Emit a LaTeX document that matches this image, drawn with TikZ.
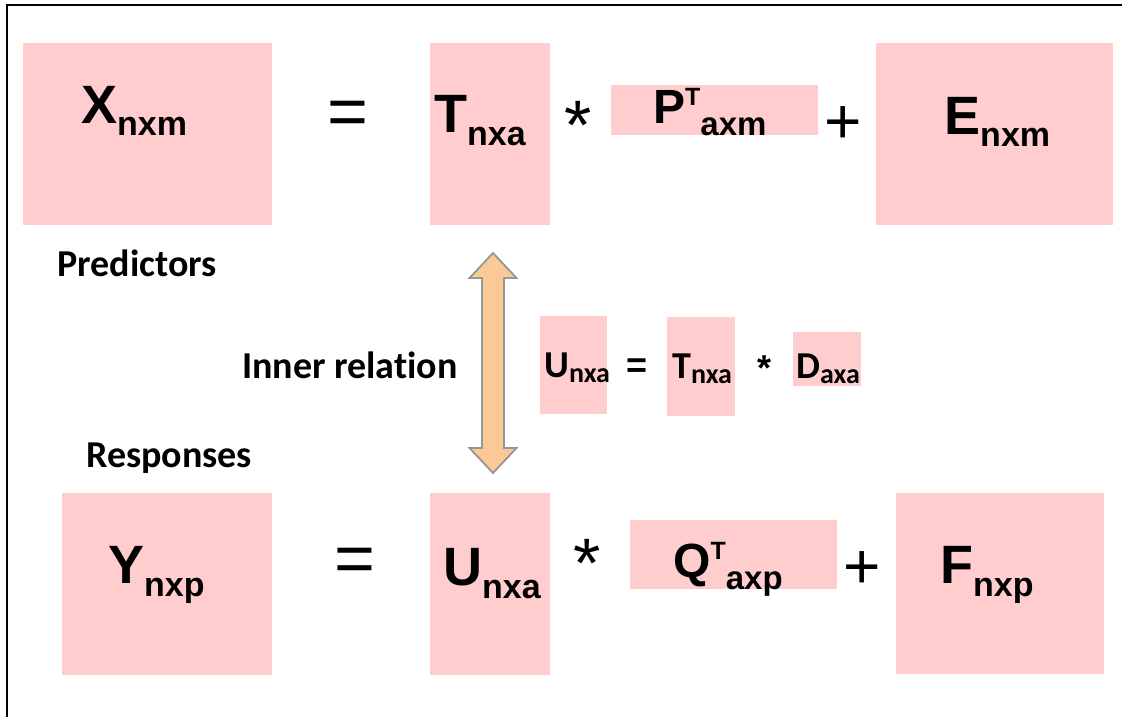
\documentclass[tikz,border=0pt]{standalone}
\usepackage{fontspec}
\setmainfont{Carlito}[Ligatures=NoCommon]
\newfontfamily\arialfont{Liberation Sans}
\usetikzlibrary{calc}
\definecolor{pinkbox}{RGB}{255,205,205}
\definecolor{arrfill}{RGB}{250,201,150}
\definecolor{arrline}{RGB}{150,150,150}
\newcommand\msub[2]{#1\raisebox{-13pt}{\fontsize{34}{40}\selectfont #2}}
\newcommand\msupsub[3]{#1\raisebox{18pt}{\fontsize{25}{28}\selectfont #2}\raisebox{-12pt}{\fontsize{33}{40}\selectfont #3}}
\newcommand\ssub[2]{#1\raisebox{-5pt}{\fontsize{28}{32}\selectfont #2}}

\begin{document}
\begin{tikzpicture}[
  x=1pt, y=-1pt,
  blk/.style={fill=pinkbox, inner sep=0},
  mat/.style={anchor=base west, inner sep=0, font=\arialfont\bfseries\fontsize{54}{60}\selectfont},
  tmat/.style={anchor=base west, inner sep=0, font=\arialfont\bfseries\fontsize{48}{54}\selectfont},
  smat/.style={anchor=base west, inner sep=0, font=\bfseries\fontsize{38}{44}\selectfont},
  op/.style={inner sep=0, font=\arialfont\fontsize{70}{76}\selectfont},
  sop/.style={inner sep=0, font=\arialfont\bfseries\fontsize{36}{42}\selectfont},
  lab/.style={anchor=base west, inner sep=0, font=\bfseries\fontsize{38}{44}\selectfont},
  rel/.style={fill=arrfill, draw=arrline, line width=1.8pt, line join=miter}
]
\useasboundingbox (0,0) rectangle (1122,717);
\draw[line width=2.5pt] (7,717) |- (1122,5);

% predictors: X = T * P' + E
\node[blk, minimum width=249, minimum height=182] (bx) at (147.5,134) {};
\node[blk, minimum width=120, minimum height=182] (bt) at (490,134) {};
\node[blk, minimum width=207, minimum height=50] (bp) at (714.5,110) {};
\node[blk, minimum width=237, minimum height=182] (be) at (994.5,134) {};
\node[mat] (tx) at (81,123) {\msub{X}{nxm}};
\node[mat] (tt) at (434,132) {\msub{T}{nxa}};
\node[tmat] (tp) at (653,123) {\msupsub{P}{T}{axm}};
\node[mat] (te) at (944,134) {\msub{E}{nxm}};
\node[op] (eq1) at (347.5,118.5) {=};
\node[op] (st1) at (578,125) {*};
\node[op, font=\arialfont\fontsize{64}{70}\selectfont] (pl1) at (843,125) {+};

% responses: Y = U * Q' + F
\node[blk, minimum width=210, minimum height=182] (by) at (167,584) {};
\node[blk, minimum width=120, minimum height=182] (bu) at (490,584) {};
\node[blk, minimum width=207, minimum height=69] (bq) at (733.5,554.5) {};
\node[blk, minimum width=208, minimum height=181] (bf) at (1000,583.5) {};
\node[mat] (ty) at (108,583) {\msub{Y}{nxp}};
\node[mat] (tu) at (443,585) {\msub{U}{nxa}};
\node[tmat] (tq) at (673,577) {\msupsub{Q}{T}{axp}};
\node[mat] (tf) at (940,583) {\msub{F}{nxp}};
\node[op] (eq2) at (355,565) {=};
\node[op] (st2) at (587,563) {*};
\node[op, font=\arialfont\fontsize{64}{70}\selectfont] (pl2) at (862,570) {+};

% inner relation: U = T * D
\node[blk, minimum width=67, minimum height=98] (su) at (573.5,365) {};
\node[blk, minimum width=68, minimum height=99] (st) at (701,366.5) {};
\node[blk, minimum width=68, minimum height=54] (sd) at (827,359) {};
\node[smat] (tsu) at (544,377) {\ssub{U}{nxa}};
\node[smat] (tst) at (672,378) {\ssub{T}{nxa}};
\node[smat] (tsd) at (796,378) {\ssub{D}{axa}};
\node[sop] (eq3) at (637.5,368) {=};
\node[sop] (st3) at (764.5,368) {*};

\node[lab] (pred) at (57,276) {Predictors};
\node[lab] (resp) at (86,467) {Responses};
\node[lab] (inner) at (242,378) {Inner relation};

\coordinate (atop) at (493,253);
\coordinate (abot) at (493,473);
\draw[rel] (atop) -- ++(23.5,25) -- ++(-12.5,0) -- ++(0,170) -- ++(12.5,0) -- (abot)
  -- ++(-23.5,-25) -- ++(12.5,0) -- ++(0,-170) -- ++(-12.5,0) -- cycle;
\end{tikzpicture}
\end{document}
